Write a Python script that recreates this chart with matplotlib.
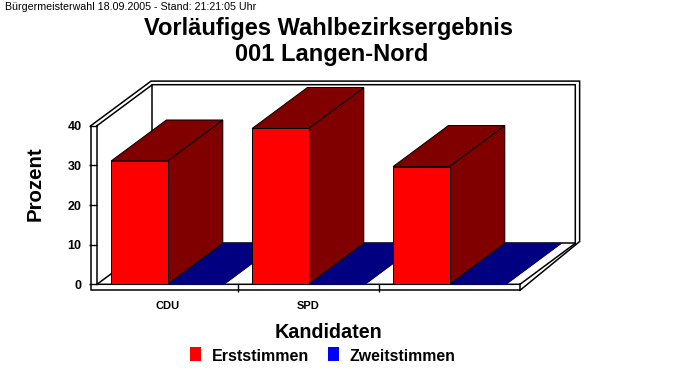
# -*- coding: utf-8 -*-
import matplotlib
matplotlib.use('Agg')
import matplotlib.pyplot as plt

plt.rcParams['font.family'] = ['Liberation Sans', 'DejaVu Sans']

kandidaten = ['CDU', 'SPD', '']
erststimmen = [31.1, 39.3, 29.7]
zweitstimmen = [0, 0, 0]
yticks = [0, 10, 20, 30, 40]

RED = '#ff0000'
DARKRED = '#800000'
BLUE = '#0000ff'
NAVY = '#000080'

W, H = 683, 380
fig = plt.figure(figsize=(W / 100, H / 100), dpi=100, facecolor='white')
ax1 = fig.add_axes([97 / W, 1 - 284.3 / H, 423 / W, 158.6 / H])
ax1.set_xlim(0, len(kandidaten))
ax1.set_ylim(0, 40)
ax1.patch.set_visible(False)

# 3d offset and wall thickness, pixels converted to data units
xpx = len(kandidaten) / 423
ypx = 40 / 158.6
dx = 55.3 * xpx
dy = 41 * ypx
wx = 6.2 * xpx
wy = 6 * ypx


def line(xs, ys, lw=1.1):
    ax1.plot(xs, ys, color='black', linewidth=lw, clip_on=False, zorder=1,
             solid_joinstyle='miter')


def box(x0, x1, val, front, dark, z):
    # side and top first, front on top
    ax1.fill([x1, x1 + dx, x1 + dx, x1], [0, dy, val + dy, val], facecolor=dark,
             edgecolor='black', linewidth=.7, clip_on=False, zorder=z)
    ax1.fill([x0, x1, x1 + dx, x0 + dx], [val, val, val + dy, val + dy], facecolor=dark,
             edgecolor='black' if val > 0 else dark, linewidth=.7, clip_on=False, zorder=z)
    if val > 0:
        ax1.fill([x0, x1, x1, x0], [0, 0, val, val], facecolor=front,
                 edgecolor='black', linewidth=.7, clip_on=False, zorder=z + .1)


# back wall and floor
top = 40 + dy
xr = 3 + dx
line([0, dx, xr, xr, 3, 0, 0], [40, top, top, dy, 0, 0, 40])
line([dx, dx, xr], [top, dy, dy])
line([0, dx], [0, dy])
# outer frame
line([-wx, dx - wx * .2, xr + wx * .7, xr + wx * .7, 3], [40, top + wy * .6, top + wy * .6, dy + wy * .3, -wy])
line([-wx, -wx, 3, 3], [40, -wy, -wy, 0])

# bars
for ii in range(len(kandidaten)):
    box(ii + .1, ii + .5, erststimmen[ii], RED, DARKRED, 3 + ii)
    box(ii + .5, ii + .9, zweitstimmen[ii], BLUE, NAVY, 2.5 + ii)

for s in ax1.spines.values():
    s.set_visible(False)
ax1.set_yticks(yticks)
ax1.set_yticklabels([str(t) for t in yticks], fontsize=9, fontweight='bold')
ax1.tick_params(axis='y', length=6, width=1, pad=5)
ax1.set_xticks([.5, 1.5, 2.5])
ax1.set_xticklabels(kandidaten, fontsize=8, fontweight='bold')
ax1.set_xticks([1, 2], minor=True)
ax1.tick_params(axis='x', which='major', length=0, pad=12)
ax1.tick_params(axis='x', which='minor', length=6, width=1)

fig.text(5 / W, 1 - 7 / H, 'Bürgermeisterwahl 18.09.2005 - Stand: 21:21:05 Uhr', fontsize=7.7, va='center')
fig.text(329 / W, 1 - 28.5 / H, 'Vorläufiges Wahlbezirksergebnis', fontsize=17, fontweight='bold', ha='center', va='center')
fig.text(332 / W, 1 - 55 / H, '001 Langen-Nord', fontsize=17, fontweight='bold', ha='center', va='center')
fig.text(35 / W, 1 - 184 / H, 'Prozent', fontsize=14.7, fontweight='bold', rotation=90, ha='center', va='center')
fig.text(329 / W, 1 - 333 / H, 'Kandidaten', fontsize=14.2, fontweight='bold', ha='center', va='center')

# legend
fig.patches.append(plt.Rectangle((190 / W, 1 - 361 / H), 11 / W, 14 / H, transform=fig.transFigure, facecolor=RED, edgecolor='none'))
fig.patches.append(plt.Rectangle((328 / W, 1 - 361 / H), 11 / W, 14 / H, transform=fig.transFigure, facecolor=BLUE, edgecolor='none'))
fig.text(212 / W, 1 - 356.5 / H, 'Erststimmen', fontsize=11.5, fontweight='bold', va='center')
fig.text(350 / W, 1 - 356.5 / H, 'Zweitstimmen', fontsize=11.4, fontweight='bold', va='center')

fig.savefig('out.png', dpi=100)
